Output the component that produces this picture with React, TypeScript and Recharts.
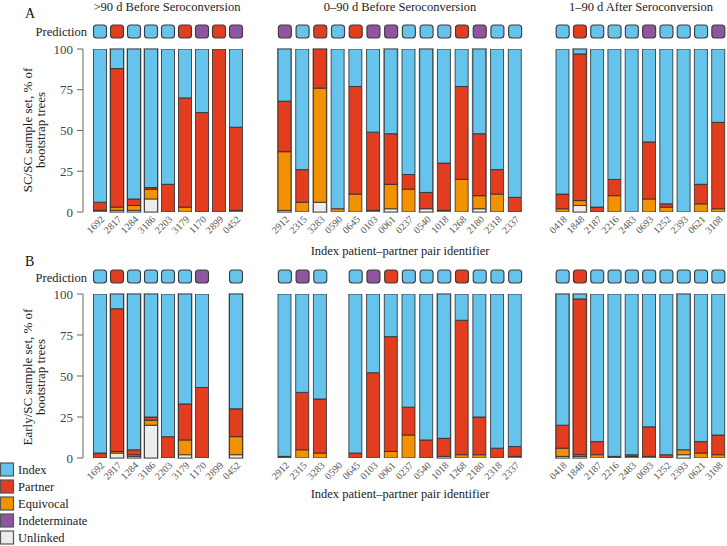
import React from 'react';
import { BarChart, Bar, XAxis, YAxis } from 'recharts';

const FONT = '"Liberation Serif", "Times New Roman", serif';

const COLORS: Record<string, string> = {
  I: '#66C3EC',
  P: '#E23D1F',
  E: '#F39200',
  N: '#8E56A0',
  U: '#ECECEC',
};

const legendLabels = ['Index', 'Partner', 'Equivocal', 'Indeterminate', 'Unlinked'];
const legendKeys = ['I', 'P', 'E', 'N', 'U'];

const groupTitles = ['>90 d Before Seroconversion', '0\u201390 d Before Seroconversion', '1\u201390 d After Seroconversion'];
const yTicks = [0, 25, 50, 75, 100];

// ---- identifiers ----
const g1Ids = ['1692', '2817', '1284', '3186', '2203', '3179', '1170', '2899', '0452'];
const g2Ids = ['2912', '2315', '3283', '0590', '0645', '0103', '0061', '0237', '0540', '1018', '1268', '2180', '2318', '2337'];
const g3Ids = ['0418', '1848', '2187', '2216', '2483', '0693', '1252', '2393', '0621', '3108'];

// ---- Panel A (SC/SC) ----
const aG1Unlinked = [0, 1, 1, 8, 0, 0, 0, 0, 0];
const aG1Equivocal = [1, 2, 3, 6, 0, 3, 0, 0, 1];
const aG1Partner = [5, 85, 4, 1, 17, 67, 61, 100, 51];
const aG1Index = [94, 12, 92, 85, 83, 30, 39, 0, 48];
const aG1Pred = ['I', 'P', 'I', 'I', 'I', 'P', 'N', 'P', 'N'];

const aG2Unlinked = [1, 0, 6, 0, 0, 0, 2, 0, 2, 0, 0, 2, 0, 0];
const aG2Equivocal = [36, 6, 70, 2, 11, 1, 15, 14, 0, 1, 20, 8, 11, 0];
const aG2Partner = [31, 20, 24, 0, 66, 48, 31, 9, 10, 29, 57, 38, 15, 9];
const aG2Index = [32, 74, 0, 98, 23, 51, 52, 77, 88, 70, 23, 52, 74, 91];
const aG2Pred = ['N', 'I', 'P', 'I', 'P', 'N', 'N', 'I', 'I', 'I', 'P', 'N', 'I', 'I'];

const aG3Unlinked = [0, 4, 0, 0, 0, 0, 0, 0, 0, 0];
const aG3Equivocal = [2, 3, 0, 10, 0, 8, 3, 0, 5, 2];
const aG3Partner = [9, 90, 3, 10, 0, 35, 2, 0, 12, 53];
const aG3Index = [89, 3, 97, 80, 100, 57, 95, 100, 83, 45];
const aG3Pred = ['I', 'P', 'I', 'I', 'I', 'N', 'I', 'I', 'I', 'N'];

// ---- Panel B (Early/SC) ----
const bG1Unlinked = [0, 3, 1, 20, 0, 2, 0, null, 2];
const bG1Equivocal = [0, 1, 1, 3, 0, 9, 0, null, 11];
const bG1Partner = [3, 87, 3, 2, 13, 22, 43, null, 17];
const bG1Index = [97, 9, 95, 75, 87, 67, 57, null, 70];
const bG1Pred = ['I', 'P', 'I', 'I', 'I', 'I', 'N', null, 'I'];

const bG2Unlinked = [0, 0, 0, null, 0, 0, 0, 0, 0, 1, 0, 0, 0, 0];
const bG2Equivocal = [0, 5, 3, null, 0, 0, 4, 14, 0, 0, 2, 2, 0, 1];
const bG2Partner = [1, 35, 33, null, 3, 52, 70, 17, 11, 11, 82, 23, 6, 6];
const bG2Index = [99, 60, 64, null, 97, 48, 26, 69, 89, 88, 16, 75, 94, 93];
const bG2Pred = ['I', 'N', 'I', null, 'I', 'N', 'P', 'I', 'I', 'I', 'P', 'I', 'I', 'I'];

const bG3Unlinked = [1, 1, 0, 0, 0, 0, 0, 2, 0, 0];
const bG3Equivocal = [5, 1, 2, 0, 1, 1, 0, 3, 3, 2];
const bG3Partner = [14, 95, 8, 1, 1, 18, 2, 0, 7, 12];
const bG3Index = [80, 3, 90, 99, 98, 81, 98, 95, 90, 86];
const bG3Pred = ['I', 'P', 'I', 'I', 'I', 'I', 'I', 'I', 'I', 'I'];

type Row = { id: string; U: number | null; E: number | null; P: number | null; I: number | null; pred: string | null };

function buildRows(ids: string[], u: (number | null)[], e: (number | null)[], p: (number | null)[], i: (number | null)[], pred: (string | null)[]): Row[] {
  return ids.map((id, k) => ({ id, U: u[k], E: e[k], P: p[k], I: i[k], pred: pred[k] }));
}

const panelA = [
  buildRows(g1Ids, aG1Unlinked, aG1Equivocal, aG1Partner, aG1Index, aG1Pred),
  buildRows(g2Ids, aG2Unlinked, aG2Equivocal, aG2Partner, aG2Index, aG2Pred),
  buildRows(g3Ids, aG3Unlinked, aG3Equivocal, aG3Partner, aG3Index, aG3Pred),
];
const panelB = [
  buildRows(g1Ids, bG1Unlinked, bG1Equivocal, bG1Partner, bG1Index, bG1Pred),
  buildRows(g2Ids, bG2Unlinked, bG2Equivocal, bG2Partner, bG2Index, bG2Pred),
  buildRows(g3Ids, bG3Unlinked, bG3Equivocal, bG3Partner, bG3Index, bG3Pred),
];

// layout: plot band start (left) and width of the bar band
const groupLayout = [
  { left: 0, width: 244.5, yAxis: true, padLeft: 8.5, marginLeft: 0 },
  { left: 275.5, width: 248, yAxis: false, padLeft: 0, marginLeft: 24 },
  { left: 554, width: 173, yAxis: false, padLeft: 0, marginLeft: 24 },
];
const TOP_AXIS_H = 49;
const BOTTOM_AXIS_H = 28;

const PredTick = (props: any) => {
  const { x, y, payload, rows } = props;
  const row = (rows as Row[]).find((r) => r.id === payload.value);
  if (!row || !row.pred) return <g />;
  return (
    <rect x={x - 6.5} y={y - 24} width={13} height={13} rx={3} ry={3} fill={COLORS[row.pred]} stroke="#3a3a3a" strokeWidth={1.1} />
  );
};

const IdTick = (props: any) => {
  const { x, y, payload } = props;
  const tx = x + 5;
  const ty = y + 8;
  return (
    <text x={tx} y={ty} transform={`rotate(-45 ${tx} ${ty})`} textAnchor="end" fontSize={10} fill="#555" fontFamily={FONT}>
      {payload.value}
    </text>
  );
};

const BarBg = (props: any) => {
  const { x, y, width, height, payload } = props;
  if (!payload || payload.I == null) return <g />;
  return <rect x={x - 1} y={y - 1} width={width + 2} height={height + 2} fill="#8d8d8d" />;
};

const seriesOrder = ['U', 'E', 'P', 'I'];

function GroupChart({ rows, layout, top, height }: { rows: Row[]; layout: any; top: number; height: number }) {
  return (
    <div style={{ position: 'absolute', left: layout.left - layout.marginLeft, top }}>
      <BarChart
        width={layout.width + layout.marginLeft}
        height={height}
        data={rows}
        margin={{ top: 0, right: 0, bottom: 0, left: layout.marginLeft }}
        barSize={13}
      >
        <XAxis
          xAxisId="top"
          orientation="top"
          dataKey="id"
          height={TOP_AXIS_H}
          axisLine={false}
          tickLine={false}
          tickSize={0}
          tickMargin={0}
          interval={0}
          padding={{ left: layout.padLeft, right: 0 }}
          tick={<PredTick rows={rows} />}
        />
        <XAxis
          xAxisId="bottom"
          dataKey="id"
          height={BOTTOM_AXIS_H}
          axisLine={false}
          tickLine={false}
          tickSize={0}
          tickMargin={0}
          interval={0}
          padding={{ left: layout.padLeft, right: 0 }}
          tick={<IdTick />}
        />
        <YAxis
          domain={[0, 100]}
          ticks={yTicks}
          width={83}
          hide={!layout.yAxis}
          axisLine={{ stroke: '#666', strokeWidth: 1 }}
          tickLine={{ stroke: '#666', strokeWidth: 1 }}
          tickSize={6}
          tickMargin={4}
          tick={{ fontSize: 13, fill: '#444', fontFamily: FONT }}
          allowDataOverflow
        />
        {seriesOrder.map((k, i) => (
          <Bar
            key={k}
            xAxisId="bottom"
            dataKey={k}
            stackId="s"
            fill={COLORS[k]}
            stroke="#2a2a2a"
            strokeWidth={0.8}
            isAnimationActive={false}
            background={i === 0 ? BarBg : undefined}
          />
        ))}
      </BarChart>
    </div>
  );
}

export default function App() {
  const panelTops = [0, 245];
  const panelHeights = [240, 241];
  return (
    <div style={{ position: 'absolute', left: 0, top: 0, width: 727, height: 546, overflow: 'hidden', background: '#fff', fontFamily: FONT }}>
      {[panelA, panelB].map((panel, p) =>
        panel.map((rows, g) => (
          <GroupChart key={`${p}-${g}`} rows={rows} layout={groupLayout[g]} top={panelTops[p]} height={panelHeights[p]} />
        ))
      )}
      <svg width={727} height={546} style={{ position: 'absolute', left: 0, top: 0, pointerEvents: 'none' }} fontFamily={FONT}>
        <text x={167} y={11} textAnchor="middle" fontSize={12.5} fill="#222">{groupTitles[0]}</text>
        <text x={400} y={11} textAnchor="middle" fontSize={12.5} fill="#222">{groupTitles[1]}</text>
        <text x={641} y={11} textAnchor="middle" fontSize={12.5} fill="#222">{groupTitles[2]}</text>
        <text x={25} y={18} fontSize={14} fill="#111">A</text>
        <text x={25} y={266} fontSize={14} fill="#111">B</text>
        <text x={87} y={35.5} textAnchor="end" fontSize={12.5} fill="#222">Prediction</text>
        <text x={87} y={281.5} textAnchor="end" fontSize={12.5} fill="#222">Prediction</text>
        <g transform="translate(32 130) rotate(-90)">
          <text x={0} y={0} textAnchor="middle" fontSize={13} fill="#222">SC/SC sample set, % of</text>
          <text x={0} y={13} textAnchor="middle" fontSize={13} fill="#222">bootstrap trees</text>
        </g>
        <g transform="translate(32 377) rotate(-90)">
          <text x={0} y={0} textAnchor="middle" fontSize={13} fill="#222">Early/SC sample set, % of</text>
          <text x={0} y={13} textAnchor="middle" fontSize={13} fill="#222">bootstrap trees</text>
        </g>
        <text x={400} y={255} textAnchor="middle" fontSize={12.5} fill="#222">Index patient–partner pair identifier</text>
        <text x={400} y={498} textAnchor="middle" fontSize={12.5} fill="#222">Index patient–partner pair identifier</text>
        {legendKeys.map((k, i) => (
          <g key={k}>
            <rect x={0.5} y={463 + i * 17} width={13} height={13} fill={COLORS[k]} stroke="#555" strokeWidth={1.2} />
            <text x={18} y={474 + i * 17} fontSize={12.5} fill="#222">{legendLabels[i]}</text>
          </g>
        ))}
      </svg>
    </div>
  );
}
